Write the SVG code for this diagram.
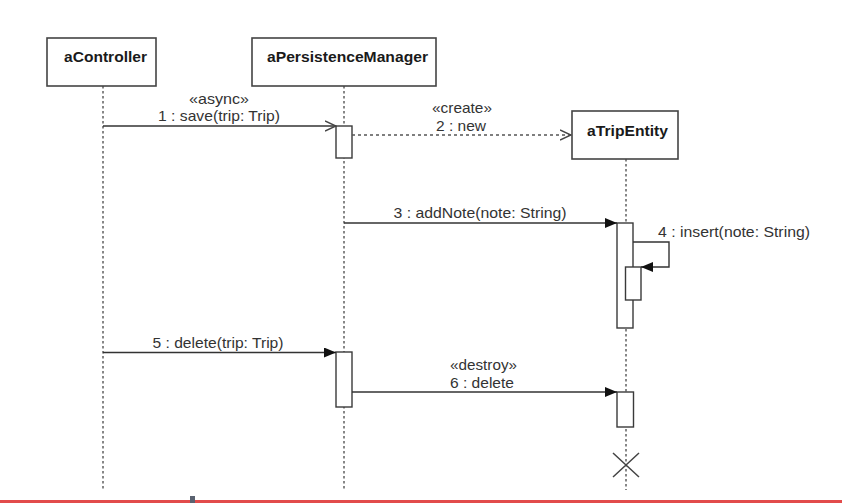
<svg xmlns="http://www.w3.org/2000/svg" width="842" height="503" viewBox="0 0 842 503">
  <style>
    .box { fill: #ffffff; stroke: #444444; stroke-width: 1.6; }
    .act { fill: #ffffff; stroke: #3a3a3a; stroke-width: 1.4; }
    .life { stroke: #555555; stroke-width: 1.4; stroke-dasharray: 2.5 2.5; fill: none; }
    .msg { stroke: #333333; stroke-width: 1.4; fill: none; }
    .dmsg { stroke: #555555; stroke-width: 1.5; stroke-dasharray: 3 3; fill: none; }
    .name { font-family: "Liberation Sans", Arial, sans-serif; font-weight: bold; font-size: 15px; fill: #1a1a1a; text-anchor: middle; }
    .lbl { font-family: "Liberation Sans", Arial, sans-serif; font-size: 15px; fill: #333333; text-anchor: middle; }
  </style>
  <defs>
    <marker id="filled" viewBox="0 0 12 10" refX="12" refY="5" markerWidth="12" markerHeight="10" markerUnits="userSpaceOnUse" orient="auto">
      <path d="M0,0 L12,5 L0,10 Z" fill="#111111"/>
    </marker>
    <marker id="open" viewBox="0 0 12 12" refX="11" refY="6" markerWidth="12" markerHeight="12" markerUnits="userSpaceOnUse" orient="auto">
      <path d="M0,1 L11,6 L0,11" fill="none" stroke="#444444" stroke-width="1.4"/>
    </marker>
  </defs>
  <rect x="0" y="0" width="842" height="503" fill="#ffffff"/>

  <g id="aController">
    <line class="life" x1="103" y1="86" x2="103" y2="490"/>
    <rect class="box" x="47" y="38" width="109" height="48"/>
    <text class="name" x="105.5" y="62" textLength="83" lengthAdjust="spacingAndGlyphs">aController</text>
  </g>

  <g id="aPersistenceManager">
    <line class="life" x1="344" y1="86" x2="344" y2="490"/>
    <rect class="box" x="252" y="38" width="184" height="48"/>
    <text class="name" x="347.5" y="62" textLength="161" lengthAdjust="spacingAndGlyphs">aPersistenceManager</text>
    <rect class="act" x="336" y="126" width="16" height="32"/>
    <rect class="act" x="336" y="352" width="16" height="55"/>
  </g>

  <g id="aTripEntity">
    <line class="life" x1="626" y1="159" x2="626" y2="490"/>
    <rect class="box" x="572" y="111" width="106" height="48"/>
    <text class="name" x="627.5" y="136" textLength="81" lengthAdjust="spacingAndGlyphs">aTripEntity</text>
    <rect class="act" x="617" y="223" width="16" height="105"/>
    <rect class="act" x="625.5" y="267" width="15.5" height="33"/>
    <rect class="act" x="617" y="392" width="16.5" height="35"/>
    <path d="M613,453 L639,477 M639,453 L613,477" stroke="#444444" stroke-width="1.5" fill="none"/>
  </g>

  <g id="connectors">
    <line class="msg" x1="103" y1="126" x2="336" y2="126" marker-end="url(#open)"/>
    <line class="dmsg" x1="352" y1="135" x2="571" y2="135" marker-end="url(#open)"/>
    <line class="msg" x1="344" y1="223" x2="617" y2="223" marker-end="url(#filled)"/>
    <path class="msg" d="M633,242 L669,242 L669,267 L641,267" marker-end="url(#filled)"/>
    <line class="msg" x1="103" y1="352.5" x2="336" y2="352.5" marker-end="url(#filled)"/>
    <line class="msg" x1="352" y1="392" x2="617" y2="392" marker-end="url(#filled)"/>
  </g>

  <g id="labels">
    <text class="lbl" x="219" y="104" textLength="60" lengthAdjust="spacingAndGlyphs">«async»</text>
    <text class="lbl" x="219" y="121" textLength="122" lengthAdjust="spacingAndGlyphs">1 : save(trip: Trip)</text>
    <text class="lbl" x="462" y="113" textLength="60" lengthAdjust="spacingAndGlyphs">«create»</text>
    <text class="lbl" x="461" y="131" textLength="50" lengthAdjust="spacingAndGlyphs">2 : new</text>
    <text class="lbl" x="480" y="218" textLength="173" lengthAdjust="spacingAndGlyphs">3 : addNote(note: String)</text>
    <text class="lbl" x="734" y="237" textLength="152" lengthAdjust="spacingAndGlyphs">4 : insert(note: String)</text>
    <text class="lbl" x="218" y="348" textLength="131" lengthAdjust="spacingAndGlyphs">5 : delete(trip: Trip)</text>
    <text class="lbl" x="483.5" y="370" textLength="67" lengthAdjust="spacingAndGlyphs">«destroy»</text>
    <text class="lbl" x="482" y="388" textLength="64" lengthAdjust="spacingAndGlyphs">6 : delete</text>
  </g>

  <rect x="0" y="500" width="842" height="3" fill="#e24b4b"/>
  <rect x="190" y="496" width="5" height="7" fill="#5a6270"/>
</svg>
